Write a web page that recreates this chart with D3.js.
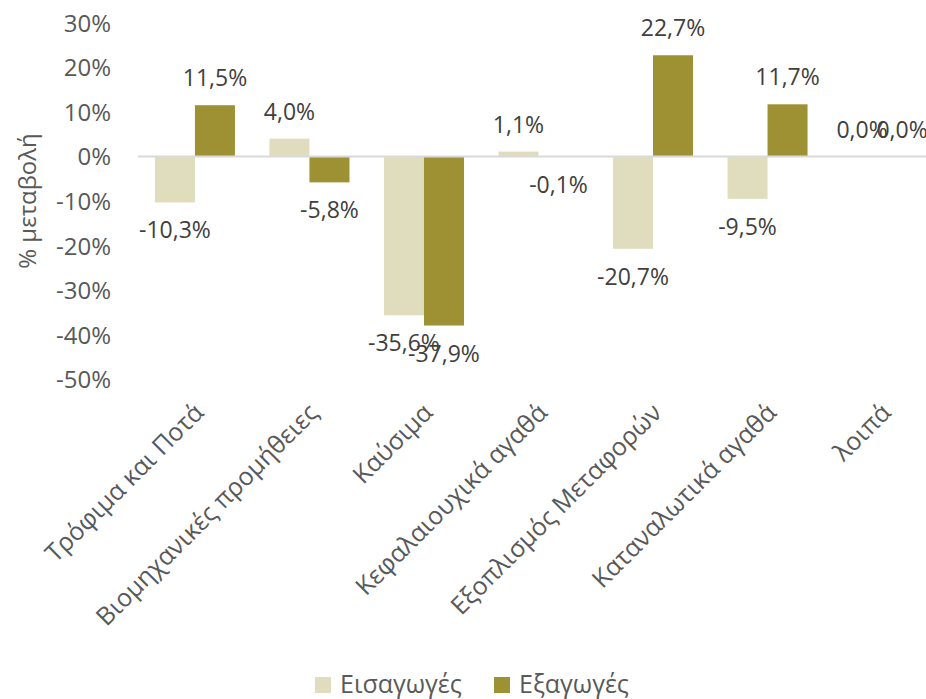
<!DOCTYPE html>
<html>
<head>
<meta charset="utf-8">
<script src="https://cdn.jsdelivr.net/npm/d3@7"></script>
<style>
  html, body { margin: 0; padding: 0; background: #ffffff; }
  svg { display: block; font-family: "Open Sans", "Noto Sans", sans-serif; }
</style>
</head>
<body>
<svg id="chart" width="926" height="699"></svg>
<script>
const categories = ["Τρόφιμα και Ποτά", "Βιομηχανικές προμήθειες", "Καύσιμα", "Κεφαλαιουχικά αγαθά", "Εξοπλισμός Μεταφορών", "Καταναλωτικά αγαθά", "λοιπά"];
const seriesNames = ["Εισαγωγές", "Εξαγωγές"];
const imports = [-10.3, 4.0, -35.6, 1.1, -20.7, -9.5, 0.0];
const exports = [11.5, -5.8, -37.9, -0.1, 22.7, 11.7, 0.0];
const tickValues = [30, 20, 10, 0, -10, -20, -30, -40, -50];
const yTitle = "% μεταβολή";

const colors = ["#e0ddbf", "#9e9133"];
const svg = d3.select("#chart");

const y = d3.scaleLinear().domain([-50, 30]).range([379.5, 22.7]);
const x = d3.scaleBand().domain(categories).range([137.75, 939.25]).paddingInner(0.3013).paddingOuter(0.15);
const xs = d3.scaleBand().domain(seriesNames).range([0, x.bandwidth()]).padding(0);

const fmtPct = v => v.toFixed(1).replace(".", ",") + "%";

// y axis
const yAxis = d3.axisLeft(y).tickValues(tickValues).tickSize(0).tickPadding(0).tickFormat(d => d + "%");
const gy = svg.append("g").attr("transform", "translate(111,0)").call(yAxis);
gy.select(".domain").remove();
gy.selectAll("text").attr("font-size", 24).attr("fill", "#595959").attr("font-family", "Open Sans").attr("dy", "0.35em");

// y title
svg.append("text")
  .attr("transform", "translate(28,201) rotate(-90)")
  .attr("text-anchor", "middle").attr("dy", "0.35em")
  .attr("font-size", 24).attr("fill", "#595959")
  .text(yTitle);

// bars
const rows = categories.map((c, i) => ({ c, vals: [imports[i], exports[i]] }));
const groups = svg.append("g").selectAll("g").data(rows).join("g")
  .attr("transform", d => `translate(${x(d.c)},0)`);

groups.selectAll("rect").data(d => d.vals.map((v, k) => ({ v, k })))
  .join("rect")
  .attr("x", d => xs(seriesNames[d.k]))
  .attr("width", xs.bandwidth())
  .attr("y", d => y(Math.max(0, d.v)))
  .attr("height", d => Math.abs(y(d.v) - y(0)))
  .attr("fill", d => colors[d.k]);

// zero line
svg.append("line")
  .attr("x1", x.range()[0]).attr("x2", x.range()[1])
  .attr("y1", y(0)).attr("y2", y(0))
  .attr("stroke", "#d9d9d9").attr("stroke-width", 2);

// data labels
groups.selectAll("text.lbl").data(d => d.vals.map((v, k) => ({ v, k })))
  .join("text").attr("class", "lbl")
  .attr("x", d => xs(seriesNames[d.k]) + xs.bandwidth() / 2)
  .attr("y", d => d.v >= 0 ? y(d.v) - 27 : y(d.v) + 28)
  .attr("dy", "0.35em")
  .attr("text-anchor", "middle")
  .attr("font-size", 23).attr("fill", "#404040")
  .text(d => fmtPct(d.v));

// x axis labels (rotated)
const xAxis = d3.axisBottom(x).tickSize(0).tickPadding(0);
const gx = svg.append("g").attr("transform", "translate(0,0)").call(xAxis);
gx.select(".domain").remove();
gx.selectAll(".tick text")
  .attr("font-size", 25).attr("fill", "#595959").attr("font-family", "Open Sans")
  .attr("text-anchor", "end")
  .attr("x", 0).attr("y", 0).attr("dy", "0.35em")
  .attr("transform", "translate(4,408) rotate(-45)");

// legend
const legend = svg.append("g");
const legX = [315, 494];
seriesNames.forEach((s, i) => {
  legend.append("rect").attr("x", legX[i]).attr("y", 677).attr("width", 16).attr("height", 16).attr("fill", colors[i]);
  legend.append("text").attr("x", legX[i] + 25).attr("y", 684).attr("dy", "0.35em")
    .attr("font-size", 25).attr("fill", "#595959").text(s);
});
</script>
</body>
</html>
